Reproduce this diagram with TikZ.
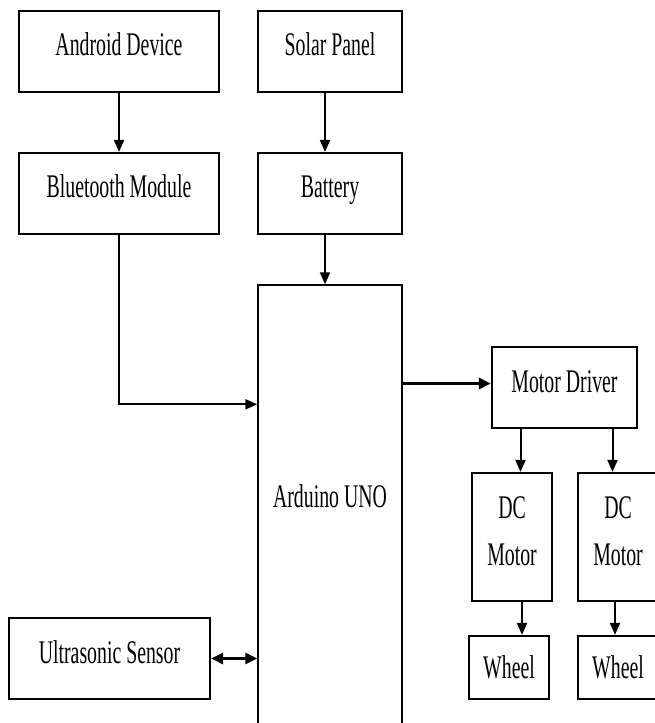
\documentclass[tikz,border=0pt]{standalone}
\usepackage{fontspec}
\usepackage{graphicx}
\setmainfont{Liberation Serif}
\usetikzlibrary{arrows.meta}

\newcommand{\sq}[1]{\scalebox{0.6}[1]{#1}}

\tikzset{
  box/.style={draw, line width=2.2pt, inner sep=0pt, align=center,
    font=\fontsize{33}{47}\selectfont},
  toptext/.style={text height=44pt, text depth=37pt},
  arr/.style={line width=2pt, -{Triangle[length=12pt,width=10pt]}},
  thickarr/.style={line width=2.8pt, -{Triangle[length=12pt,width=11pt]}}
}

\begin{document}
\begin{tikzpicture}[x=1pt, y=-1pt]
        \useasboundingbox (0,0) rectangle (654,723);

        \node[box, toptext, minimum width=200pt] (android) at (119,51.5) {\sq{Android Device}};
        \node[box, toptext, minimum width=144pt] (solar) at (330,51.5) {\sq{Solar Panel}};
        \node[box, toptext, minimum width=200pt] (bluetooth) at (119,193.5) {\sq{Bluetooth Module}};
        \node[box, toptext, minimum width=144pt] (battery) at (330,193.5) {\sq{Battery}};
        \node[box, line width=1.4pt, minimum width=144pt, text height=222pt, text depth=253pt] (arduino) at (330,522.5) {\sq{Arduino UNO}};
        \node[box, text height=45pt, text depth=36pt, minimum width=145pt] (driver) at (564.5,387.5) {\sq{Motor Driver}};
        \node[box, minimum width=80pt, text height=92pt, text depth=36pt] (dcleft) at (512,537) {\sq{DC}\\\sq{Motor}};
        \node[box, minimum width=80pt, text height=92pt, text depth=36pt] (dcright) at (618,537) {\sq{DC}\\\sq{Motor}};
        \node[box, minimum width=80pt, minimum height=63pt] (wheelleft) at (509,667.5) {\sq{Wheel}};
        \node[box, minimum width=80pt, minimum height=63pt] (wheelright) at (618,667.5) {\sq{Wheel}};
        \node[box, text height=45pt, text depth=36pt, minimum width=201pt] (ultra) at (109.5,658.5) {\sq{Ultrasonic Sensor}};

        \draw[arr] (android) -- (bluetooth);
        \draw[arr] ([xshift=-5pt]solar.south) -- ([xshift=-5pt]battery.north);
        \draw[arr] ([xshift=-5pt]battery.south) -- ([xshift=-5pt]battery.south |- arduino.north);
        \draw[arr] (bluetooth.south) |- ([yshift=-120pt]arduino.north west);
        \draw[thickarr] ([yshift=4pt]driver.west -| arduino.east) -- ([yshift=4pt]driver.west);
        \draw[arr] ([xshift=-44pt]driver.south) -- ([xshift=-44pt]driver.south |- dcleft.north);
        \draw[arr] ([xshift=48pt]driver.south) -- ([xshift=48pt]driver.south |- dcright.north);
        \draw[arr] ([xshift=10pt]dcleft.south) -- ([xshift=10pt]dcleft.south |- wheelleft.north);
        \draw[arr] ([xshift=-3pt]dcright.south) -- ([xshift=-3pt]dcright.south |- wheelright.north);
        \draw[thickarr, {Triangle[length=12pt,width=11pt]}-{Triangle[length=12pt,width=11pt]}] (ultra.east) -- (ultra.east -| arduino.west);
    \end{tikzpicture}
\end{document}
